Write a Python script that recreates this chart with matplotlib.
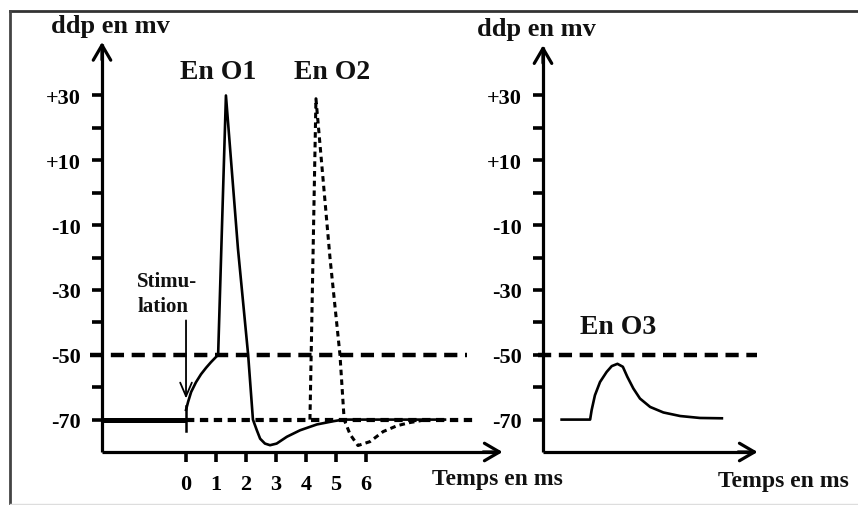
import matplotlib
matplotlib.use("Agg")
import matplotlib.pyplot as plt
from matplotlib.lines import Line2D

plt.rcParams["lines.scale_dashes"] = False
plt.rcParams["font.family"] = ["Liberation Serif", "DejaVu Serif"]
plt.rcParams["font.weight"] = "bold"

# ---------------- data ----------------
# Left panel (time in ms, potential in mV)
rest_t = [-2.8, 0.0]
rest_v = [-70, -70]

o1_t = [0.0, 0.07, 0.17, 0.33, 0.5, 0.67, 0.83, 1.07, 1.33, 1.73, 2.07, 2.23,
        2.36, 2.47, 2.63, 2.8, 3.02, 3.36, 3.8, 4.36, 4.91, 5.24, 8.63]
o1_v = [-67, -64.5, -61.5, -58.5, -56, -54, -52.3, -50, 30, -17.2, -50, -70,
        -73.3, -75.9, -77.4, -77.9, -77.4, -75.3, -73.3, -71.5, -70.5, -70, -70]

o2_t = [4.13, 4.33, 4.8, 5.13, 5.27, 5.47, 5.73, 6.13, 6.57, 7.03, 7.47, 8.03]
o2_v = [-70, 29, -20.3, -50, -70, -74.6, -78, -76.8, -73.7, -71.9, -70.9, -70]

# Right panel
o3_t = [0.62, 1.57, 1.62, 1.73, 1.9, 2.12, 2.29, 2.48, 2.66, 2.81, 3.01, 3.23,
        3.57, 4.01, 4.57, 5.23, 5.96]
o3_v = [-70, -70, -67.1, -62.5, -58.4, -55.3, -53.5, -52.8, -53.7, -56.8, -60.4,
        -63.5, -66.1, -67.8, -68.9, -69.5, -69.6]

threshold = -50
resting = -70
y_major = [-70, -50, -30, -10, 10, 30]
y_major_labels = ["-70", "-50", "-30", "-10", "+10", "+30"]
y_minor = [-60, -40, -20, 0, 20]
x_ticks = [0, 1, 2, 3, 4, 5, 6]
x_tick_labels = ["0", "1", "2", "3", "4", "5", "6"]

stim_t = 0.0
stim_from = -39.4
stim_to = -63.5

# ---------------- figure ----------------
W, H = 858, 506
fig = plt.figure(figsize=(W / 100, H / 100), dpi=100)

def fx(px):
    return px / W

def fy(py):
    return (H - py) / H

YMIN, YMAX = -80, 46.5
axL = fig.add_axes([fx(102), fy(453), 400 / W, 410 / H])
axR = fig.add_axes([fx(543), fy(453), 214 / W, 410 / H])
axL.set_xlim(-2.8, 10.53)
axR.set_xlim(0, 7.13)
for ax in (axL, axR):
    ax.set_ylim(YMIN, YMAX)
    for s in ax.spines.values():
        s.set_visible(False)
    ax.patch.set_alpha(0)
    ax.set_yticks(y_major)
    ax.set_yticklabels(y_major_labels, fontsize=16, fontweight="bold")
    ax.set_yticks(y_minor, minor=True)
    ax.tick_params(axis="y", which="both", direction="out", length=7, width=2.6,
                   pad=8, color="black")

axL.set_xticks(x_ticks)
axL.set_xticklabels(x_tick_labels, fontsize=16, fontweight="bold")
axL.tick_params(axis="x", which="major", direction="out", length=7.5, width=2.6, pad=8)
axR.set_xticks([])

AX_LW = 2.3

def axis_arrows(ax, x0, x1, ytop):
    ax.plot([x0, x1], [YMIN, YMIN], color="black", lw=AX_LW, clip_on=False,
            solid_capstyle="butt")
    ax.plot([x0, x0], [YMIN, ytop], color="black", lw=AX_LW, clip_on=False,
            solid_capstyle="butt")
    ax.annotate("", xy=(x1 + 0.15, YMIN), xytext=(x1 - 0.5, YMIN),
                arrowprops=dict(arrowstyle="->,head_length=0.6,head_width=0.35",
                                lw=AX_LW, color="black", mutation_scale=18,
                                shrinkA=0, shrinkB=0),
                annotation_clip=False)
    ax.annotate("", xy=(x0, ytop + 0.5), xytext=(x0, ytop - 5),
                arrowprops=dict(arrowstyle="->,head_length=0.6,head_width=0.35",
                                lw=AX_LW, color="black", mutation_scale=18,
                                shrinkA=0, shrinkB=0),
                annotation_clip=False)

axis_arrows(axL, -2.8, 10.4, 46.0)
axis_arrows(axR, 0.0, 7.0, 45.0)

# reference lines
axL.plot([-3.2, 9.37], [threshold, threshold], color="black", lw=3.2,
         dashes=(9.5, 5.5), clip_on=False)
axL.plot([0.0, 9.57], [resting, resting], color="black", lw=3.0,
         dashes=(6, 4), clip_on=False)
axR.plot([-0.15, 7.13], [threshold, threshold], color="black", lw=3.2,
         dashes=(9.5, 5.5), clip_on=False)

# resting thick line
axL.plot(rest_t, rest_v, color="black", lw=3.6, solid_capstyle="butt")

# O2 dashed
axL.plot(o2_t, o2_v, color="black", lw=2.2, dashes=(4, 3))

# O1 solid
axL.plot(o1_t, o1_v, color="black", lw=1.9, solid_joinstyle="round")

# small mark at stimulation
axL.plot([stim_t, stim_t], [-65.7, -73.4], color="black", lw=1.8)

# stimulation arrow
axL.annotate("", xy=(stim_t, stim_to), xytext=(stim_t, stim_from),
             arrowprops=dict(arrowstyle="->,head_length=0.7,head_width=0.3",
                             lw=1.3, color="black", mutation_scale=14,
                             shrinkA=0, shrinkB=0))

# O3
axR.plot(o3_t, o3_v, color="black", lw=1.9, solid_joinstyle="round")

# texts
tk = dict(fontweight="bold", color="#111111", clip_on=False)
axL.text(-2.53, 51.6, "ddp en mv", fontsize=19, ha="center", va="center", **tk)
axR.text(-0.23, 50.7, "ddp en mv", fontsize=19, ha="center", va="center", **tk)
axL.text(1.07, 37.4, "En O1", fontsize=20, ha="center", va="center", **tk)
axL.text(4.87, 37.4, "En O2", fontsize=20, ha="center", va="center", **tk)
axR.text(2.5, -41.3, "En O3", fontsize=20, ha="center", va="center", **tk)
axL.text(-1.63, -27.1, "Stimu-", fontsize=15, ha="left", va="center", **tk)
axL.text(-1.63, -35.1, "lation", fontsize=15, ha="left", va="center", **tk)
axL.text(10.37, -88.2, "Temps en ms", fontsize=17, ha="center", va="center", **tk)
axR.text(8.0, -88.8, "Temps en ms", fontsize=17, ha="center", va="center", **tk)

# outer frame
fig.add_artist(Line2D([fx(10), 1.0], [fy(12), fy(12)], color="#333333", lw=2.0,
                      transform=fig.transFigure))
fig.add_artist(Line2D([fx(10), fx(10)], [fy(12), 0.0], color="#444444", lw=2.0,
                      transform=fig.transFigure))
fig.add_artist(Line2D([fx(10), 1.0], [fy(505), fy(505)], color="#dddddd", lw=1.0,
                      transform=fig.transFigure))

fig.savefig("out.png", dpi=100, facecolor="white")
